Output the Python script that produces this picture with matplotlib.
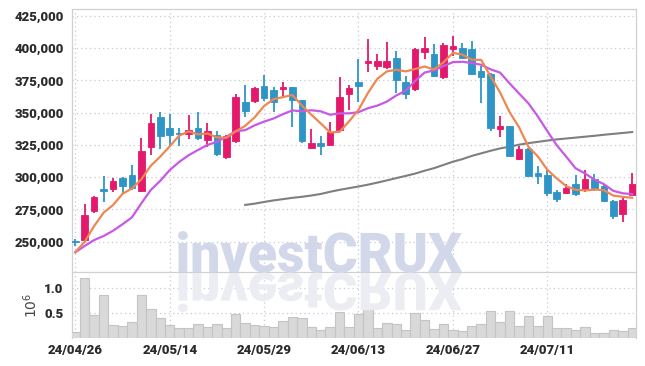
import numpy as np
import pandas as pd
import matplotlib
matplotlib.use("Agg")
import matplotlib.pyplot as plt
from matplotlib.textpath import TextPath
from matplotlib.patches import PathPatch
from matplotlib.font_manager import FontProperties
from matplotlib.transforms import Affine2D

# 거래일 (한국장 휴장일 제외)
dates = pd.bdate_range("2024-04-26", "2024-07-24", freq="C",
                       holidays=["2024-05-01", "2024-05-06", "2024-05-15", "2024-06-06"])
date_labels = [d.strftime("%y/%m/%d") for d in dates]

opens = [250500, 251300, 274000, 290500, 290600, 299400, 301500, 289500, 323200, 346700,
         338100, 334500, 333700, 338100, 328800, 332700, 315400, 328300, 358100, 359100,
         370700, 367600, 368600, 369700, 359800, 322900, 326300, 325200, 336600, 364300,
         373800, 388500, 386200, 385700, 392400, 373800, 368400, 397300, 395500, 377900,
         399400, 400400, 399400, 382300, 380000, 337600, 339700, 313900, 322100, 303300,
         301700, 288500, 288000, 294700, 290900, 298600, 293400, 281300, 271700, 286400]
highs = [252000, 279000, 285500, 301000, 299600, 300000, 309200, 330200, 348800, 350300,
         349000, 338400, 348200, 350300, 341800, 335800, 332700, 364500, 371200, 370200,
         379000, 370200, 374000, 370000, 360000, 337100, 332200, 343000, 377900, 371500,
         391400, 406900, 395300, 405000, 398100, 378700, 399800, 408500, 403300, 403800,
         409500, 404300, 405600, 386200, 381000, 347700, 340000, 324200, 322500, 308500,
         305600, 290100, 294500, 301700, 305600, 302300, 294700, 282300, 284100, 303000]
lows = [247000, 250000, 272000, 281000, 288500, 287500, 290000, 288800, 317200, 321600,
        324200, 324200, 329400, 328800, 323200, 316400, 313900, 326700, 346400, 357800,
        359300, 350800, 363000, 338700, 326300, 321600, 317200, 325000, 336000, 352100,
        358500, 381300, 383100, 383600, 365000, 360400, 366800, 391400, 377900, 375900,
        394000, 392000, 379300, 357800, 335800, 330900, 316000, 313500, 300800, 294700,
        285400, 280500, 286700, 285400, 288300, 289500, 281000, 267400, 265000, 286000]
closes = [250000, 270700, 284700, 289500, 297000, 293400, 291900, 320300, 342000, 332200,
          333000, 333700, 336600, 330600, 335800, 317800, 331900, 361900, 351600, 368900,
          361600, 358500, 369900, 359600, 328300, 326300, 324400, 335000, 361900, 368900,
          370700, 390100, 390100, 390100, 375400, 364300, 399400, 399900, 378700, 402500,
          401700, 392600, 379800, 377900, 338400, 339700, 316700, 321900, 301200, 301200,
          288000, 283300, 291600, 287000, 298600, 291400, 281300, 270200, 282600, 294700]
volumes = [130000, 1200000, 460000, 860000, 260000, 240000, 320000, 860000, 580000, 400000,
           260000, 200000, 200000, 280000, 220000, 280000, 200000, 480000, 300000, 260000,
           240000, 220000, 340000, 420000, 400000, 220000, 160000, 220000, 520000, 220000,
           480000, 660000, 200000, 300000, 280000, 160000, 500000, 360000, 180000, 280000,
           160000, 140000, 240000, 280000, 540000, 320000, 540000, 240000, 440000, 240000,
           440000, 200000, 200000, 160000, 220000, 100000, 100000, 160000, 140000, 200000]

# 이동평균
ma5 = [241800, 250000, 262200, 272500, 278400, 287100, 291300, 298400, 308900, 316000,
       323900, 332200, 335500, 333200, 333900, 330900, 330500, 335600, 339800, 346400,
       355200, 360500, 362100, 363700, 355600, 348500, 341700, 334700, 335200, 343300,
       352200, 365300, 376300, 382000, 383300, 382000, 383900, 385800, 383500, 389000,
       396400, 395100, 391100, 390900, 378100, 365700, 350500, 338900, 323600, 316100,
       305800, 299100, 293100, 290200, 289700, 290400, 290000, 285700, 284800, 284000]
ma10 = [241800, 246700, 251300, 254400, 258500, 263500, 268900, 279800, 290100, 297200,
        305500, 311800, 317000, 321100, 325000, 327400, 331400, 335600, 336500, 340200,
        343100, 345500, 348900, 351800, 351000, 351900, 351100, 348400, 349500, 349500,
        350400, 353500, 355500, 358600, 363300, 367100, 374600, 381100, 382800, 386200,
        389200, 389500, 388500, 387200, 383600, 381100, 372800, 365000, 357300, 347100,
        335800, 324800, 316000, 306900, 302900, 298100, 294600, 289400, 287500, 286900]
ma60 = [np.nan] * 18 + [
        278500, 279500, 280800, 282000, 283000, 284000, 284800, 285800, 287000, 288700,
        290200, 291500, 292800, 294200, 295800, 297500, 299300, 301000, 302800, 305000,
        307000, 309500, 312000, 314000, 316500, 318500, 320500, 322300, 323600, 325200,
        326400, 327400, 328400, 329300, 330000, 330700, 331400, 332100, 332900, 333600,
        334300, 335000]

UP = "#e4196b"
DOWN = "#2f95c6"
GRID = "#c5cadb"
TXT = "#2b2b2b"

df = pd.DataFrame({"o": opens, "h": highs, "l": lows, "c": closes, "v": volumes,
                   "ma5": ma5, "ma10": ma10, "ma60": ma60})
x = np.arange(len(df))
up = df.c >= df.o
colors = np.where(up, UP, DOWN)

fig = plt.figure(figsize=(6.45, 3.66), dpi=100)
ax = fig.add_axes([72 / 645, 1 - 272 / 366, 564 / 645, 263 / 366])
axv = fig.add_axes([72 / 645, 1 - 338 / 366, 564 / 645, 66 / 366], sharex=ax)

tick_font = dict(family=["Roboto", "DejaVu Sans"], weight="black", size=9.5)

# 워터마크 + 반사
fp = FontProperties(family=["Roboto", "DejaVu Sans"], weight="black")
tp = TextPath((0, 0), "investCRUX", size=1, prop=fp)
ext = tp.get_extents()
sx = (284 / 645) / ext.width
sy = (39 / 366) / 0.71
x0 = 178 / 645 - ext.x0 * sx
base = 1 - 272 / 366
fig.patches.append(PathPatch(tp, transform=Affine2D().scale(sx, sy).translate(x0, base) + fig.transFigure,
                             fc="#d2d8ea", ec="none", zorder=0.5))
fig.patches.append(PathPatch(tp, transform=Affine2D().scale(sx, -sy * 0.95).translate(x0, base - 0.003) + fig.transFigure,
                             fc="#ecedf3", ec="none", zorder=0.5))
ax.set_facecolor("none")
axv.set_facecolor("none")

# 캔들
ax.vlines(x, df.l, df.h, colors=colors, lw=1.3, zorder=3)
body_h = (df.c - df.o).abs().clip(lower=900)
ax.bar(x, body_h, bottom=df[["o", "c"]].min(axis=1), width=0.7, color=colors,
       edgecolor=colors, lw=0.6, zorder=4)

ax.plot(x, df.ma60, color="#7f7f7f", lw=1.5, zorder=2)
ax.plot(x, df.ma10, color="#c858e6", lw=1.6, zorder=5)
ax.plot(x, df.ma5, color="#ee8752", lw=1.6, zorder=5)

ax.set_xlim(-0.35, 59.4)
ax.set_ylim(226500, 430400)
ax.set_yticks(np.arange(250000, 425001, 25000))
ax.set_yticklabels([f"{v:,}" for v in range(250000, 425001, 25000)], **tick_font, color=TXT)
ax.tick_params(axis="both", length=0, pad=6)
ax.tick_params(axis="x", labelbottom=False)
ax.grid(True, color=GRID, ls=(0, (1, 2.5)), lw=0.9)

# 거래량
axv.bar(x, df.v / 1e6, width=1.0, color="#d9d9d9", edgecolor="#c4c4c4", lw=0.8, zorder=3)
axv.set_ylim(0, 1.32)
axv.set_yticks([0.5, 1.0])
axv.set_yticklabels(["0.5", "1.0"], **tick_font, color=TXT)
axv.set_xticks(x[::10])
axv.set_xticklabels(date_labels[::10], **tick_font, color=TXT)
axv.tick_params(axis="both", length=0, pad=6)
axv.tick_params(axis="x", pad=4)
axv.grid(True, color=GRID, ls=(0, (1, 2.5)), lw=0.9)
axv.set_ylabel("$10^6$", fontsize=10, color="#444444", labelpad=3)

for a in (ax, axv):
    for s in a.spines.values():
        s.set_color("#d0d0d0")
        s.set_linewidth(0.9)
ax.spines["bottom"].set_visible(False)
axv.spines["bottom"].set_visible(False)

fig.savefig("out.png", dpi=100)
